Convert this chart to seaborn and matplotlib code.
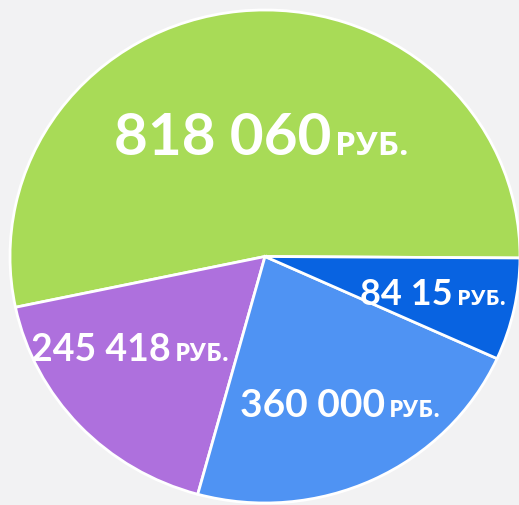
import matplotlib
matplotlib.use("Agg")
import matplotlib.pyplot as plt
import seaborn as sns

# Slice data (shares, labels as printed)
categories = ["green", "purple", "blue", "dark blue"]
shares = [53.4, 17.45, 22.45, 6.7]
amounts = ["818 060", "245 418", "360 000", "84 15"]
unit = "РУБ."
colors = ["#A8DB57", "#AE70DD", "#4F93F3", "#0863E1"]

# label anchors in pixels (x where number ends, baseline y) and font sizes
label_pos = [(331, 155), (171, 361), (385, 417), (453, 305)]
num_sizes = [42, 27, 28, 26]
unit_sizes = [24, 18, 17, 16]

W, H = 519, 505
# the pie is slightly flattened: centre and radii in pixels
CX, CY, RX, RY = 265, 256.5, 255, 246.5

sns.set_theme(style="white")
plt.rcParams["font.family"] = ["Lato", "DejaVu Sans"]

fig = plt.figure(figsize=(W / 100, H / 100), dpi=100)
fig.patch.set_facecolor("#F2F2F3")

ax = fig.add_axes([(CX - RX) / W, (H - CY - RY) / H, 2 * RX / W, 2 * RY / H])
ax.set_facecolor("none")
palette = sns.color_palette(colors)
ax.pie(
    shares,
    colors=palette,
    startangle=-0.35,
    counterclock=True,
    radius=1,
    wedgeprops=dict(edgecolor="white", linewidth=2, antialiased=True),
)
ax.set_xlim(-1, 1)
ax.set_ylim(-1, 1)
ax.set_aspect("auto")
ax.axis("off")

for (x, y), amt, ns, us in zip(label_pos, amounts, num_sizes, unit_sizes):
    fig.text(x / W, 1 - y / H, amt, ha="right", va="baseline",
             fontsize=ns, fontweight="bold", color="white",
             family=["Lato", "DejaVu Sans"])
    fig.text((x + 4) / W, 1 - y / H, unit, ha="left", va="baseline",
             fontsize=us, fontweight="bold", color="white",
             family=["Open Sans", "DejaVu Sans"])

fig.savefig("out.png", dpi=100, facecolor=fig.get_facecolor())
